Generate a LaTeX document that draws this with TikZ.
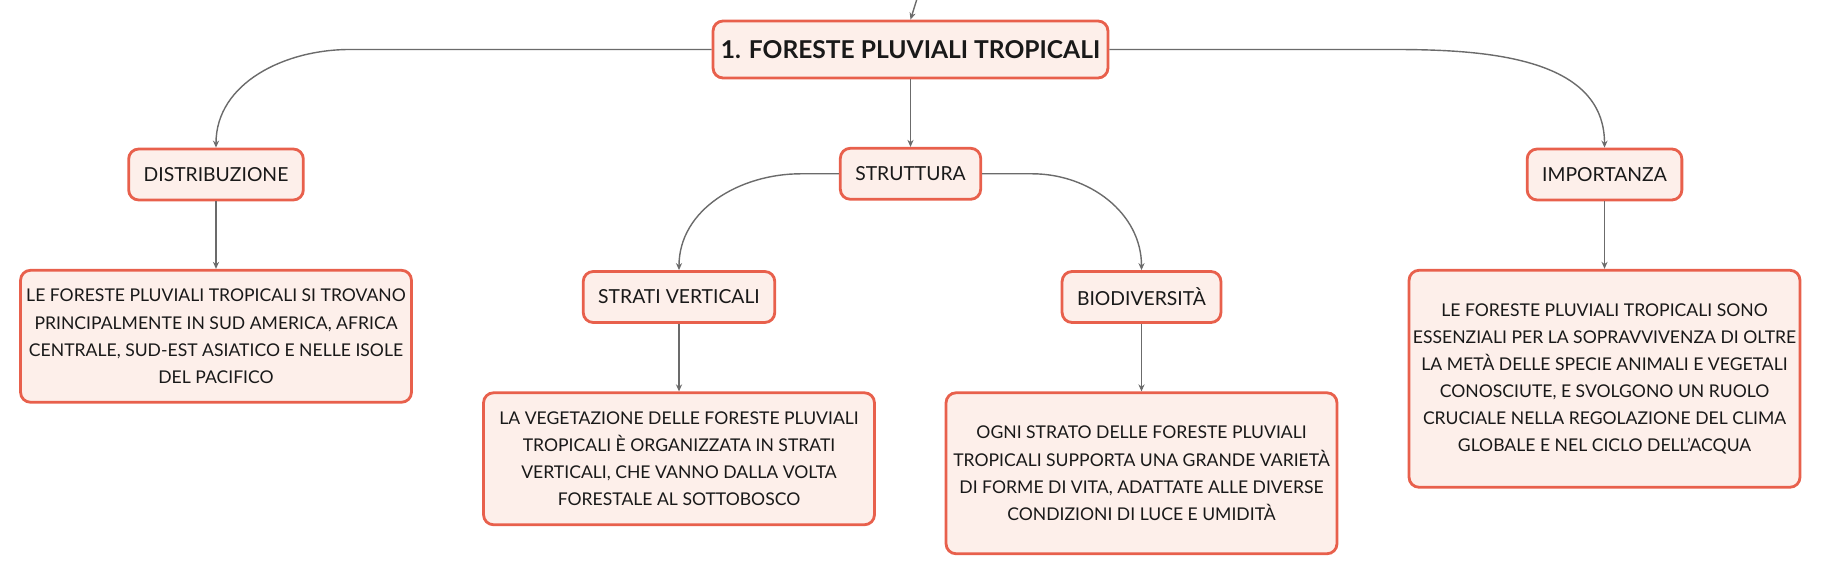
\documentclass[tikz,border=0pt]{standalone}
\usepackage{fontspec}
\setmainfont{Lato}
\usetikzlibrary{arrows.meta,positioning}

\definecolor{boxred}{HTML}{E8604C}
\definecolor{boxfill}{HTML}{FDEFEA}
\definecolor{linegray}{HTML}{6B6B6B}

\tikzset{
  box/.style={draw=boxred,fill=boxfill,line width=1.6pt,rounded corners=0.2cm,align=center,text=black!90},
  topic/.style={box,font=\bfseries\fontsize{14}{17}\selectfont,minimum width=7.9cm,minimum height=1.14cm},
  branch/.style={box,font=\fontsize{11}{14}\selectfont,inner xsep=0.3cm,minimum height=1.02cm},
  info/.style={box,font=\fontsize{10}{15.4}\selectfont,inner xsep=2pt,minimum width=7.82cm},
  conn/.style={draw=linegray,line width=0.8pt,-{Stealth[length=4pt,width=3.5pt]}}
}

\begin{document}
\begin{tikzpicture}[x=0.02cm,y=-0.02cm,node distance=1.35cm]
  \useasboundingbox (0,0) rectangle (1821,577);
  \node[topic]  (root)   at (910.5,49.5)   {1. FORESTE PLUVIALI TROPICALI};
  \node[branch] (distr)  at (216,174.5)    {DISTRIBUZIONE};
  \node[branch] (strutt) [below=of root]   {STRUTTURA};
  \node[branch] (imp)    at (1604.5,174.5) {IMPORTANZA};
  \node[branch] (strati) at (679,297)      {STRATI VERTICALI};
  \node[branch] (biodiv) at (1141.5,297)   {BIODIVERSITÀ};
  \node[info,minimum height=2.64cm] (distrtxt) [below=of distr]
    {LE FORESTE PLUVIALI TROPICALI SI TROVANO\\PRINCIPALMENTE IN SUD AMERICA, AFRICA\\CENTRALE, SUD-EST ASIATICO E NELLE ISOLE\\DEL PACIFICO};
  \node[info,minimum height=2.64cm] (stratitxt) [below=of strati]
    {LA VEGETAZIONE DELLE FORESTE PLUVIALI\\TROPICALI È ORGANIZZATA IN STRATI\\VERTICALI, CHE VANNO DALLA VOLTA\\FORESTALE AL SOTTOBOSCO};
  \node[info,minimum height=3.22cm] (biodivtxt) [below=of biodiv]
    {OGNI STRATO DELLE FORESTE PLUVIALI\\TROPICALI SUPPORTA UNA GRANDE VARIETÀ\\DI FORME DI VITA, ADATTATE ALLE DIVERSE\\CONDIZIONI DI LUCE E UMIDITÀ};
  \node[info,minimum height=4.34cm] (imptxt) [below=of imp]
    {LE FORESTE PLUVIALI TROPICALI SONO\\ESSENZIALI PER LA SOPRAVVIVENZA DI OLTRE\\LA METÀ DELLE SPECIE ANIMALI E VEGETALI\\CONOSCIUTE, E SVOLGONO UN RUOLO\\CRUCIALE NELLA REGOLAZIONE DEL CLIMA\\GLOBALE E NEL CICLO DELL’ACQUA};
  \coordinate (parent) at (926,-30);

  \draw[conn] (parent) -- (root.north);
  \draw[conn] (root.west) -- ++(-362,0) to[out=180,in=90] (distr.north);
  \draw[conn] (root.east) -- ++(284,0) to[out=0,in=90] (imp.north);
  \draw[conn] (strutt.west) -- ++(-38,0) to[out=180,in=90] (strati.north);
  \draw[conn] (strutt.east) -- ++(50,0) to[out=0,in=90] (biodiv.north);
  \path[conn]
  (root)   edge (strutt)
  (distr)  edge (distrtxt)
  (strati) edge (stratitxt)
  (biodiv) edge (biodivtxt)
  (imp)    edge (imptxt);
\end{tikzpicture}
\end{document}
